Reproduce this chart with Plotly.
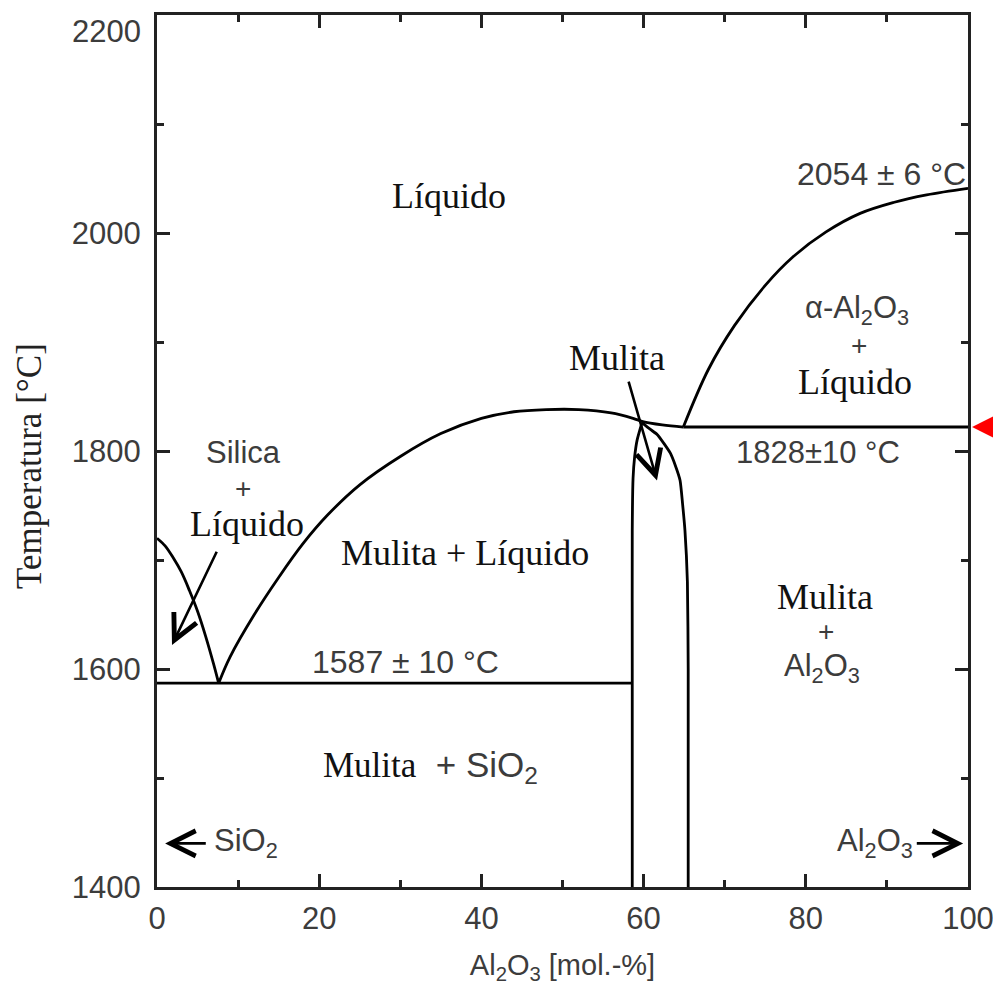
import plotly.graph_objects as go

# ---- data ----
sio2_liq_x = [0, 1, 2, 3, 4, 5, 6, 7, 7.6]
sio2_liq_y = [1720, 1713, 1702, 1689, 1672, 1653, 1630, 1604, 1587]

dome_x = [7.6, 9.0, 12.0, 15.0, 18.0, 21.0, 25.0, 30.0, 35.0, 40.0, 44.0, 48.0, 52.0, 56.0, 58.7, 59.9, 62.3, 64.9]
dome_y = [1587, 1611, 1650, 1684, 1715, 1741, 1769, 1795, 1816, 1830, 1836, 1838, 1838, 1835, 1830, 1827, 1824, 1822]

al_liq_x = [64.9, 68.0, 71.2, 75.0, 78.4, 82.5, 86.7, 90.8, 94.9, 100]
al_liq_y = [1822, 1875, 1915, 1952, 1978, 2001, 2018, 2028, 2035, 2041]

mul_left_x = [58.6, 58.6, 58.6, 58.7, 58.9, 59.2, 59.8]
mul_left_y = [1400, 1600, 1727, 1775, 1795, 1810, 1826]

mul_right_x = [65.5, 65.5, 65.4, 65.1, 64.8, 64.5, 63.9, 63.3, 62.5, 61.7, 60.8, 59.8]
mul_right_y = [1400, 1600, 1680, 1727, 1752, 1773, 1787, 1798, 1807, 1815, 1820, 1826]

eutectic_x = [0, 58.6]
eutectic_y = [1587, 1587]
peritectic_x = [64.9, 100]
peritectic_y = [1822, 1822]

x_ticks = [0, 20, 40, 60, 80, 100]
y_ticks = [1400, 1600, 1800, 2000, 2200]

SERIF = "Liberation Serif"
SANS = "Liberation Sans"
SANS_C = "#3c3c3c"
SERIF_C = "#111111"
LW = 2.8

fig = go.Figure()

def add_line(x, y, shape="linear", smoothing=1.0):
    fig.add_trace(go.Scatter(x=x, y=y, mode="lines",
                             line=dict(color="black", width=LW, shape=shape, smoothing=smoothing),
                             hoverinfo="skip", showlegend=False))

add_line(sio2_liq_x, sio2_liq_y, "spline", 1.0)
add_line(dome_x, dome_y, "spline", 1.0)
add_line(al_liq_x, al_liq_y, "spline", 1.0)
add_line(mul_left_x, mul_left_y, "spline", 0.5)
add_line(mul_right_x, mul_right_y, "spline", 0.5)
add_line(eutectic_x, eutectic_y)
add_line(peritectic_x, peritectic_y)

def serif_txt(x, y, t, size=36):
    fig.add_annotation(x=x, y=y, text=t, showarrow=False,
                       font=dict(family=SERIF, size=size, color=SERIF_C))

def sans_txt(x, y, t, size=31):
    fig.add_annotation(x=x, y=y, text=t, showarrow=False,
                       font=dict(family=SANS, size=size, color=SANS_C))

serif_txt(36.0, 2034, "Líquido")
sans_txt(10.7, 1799, "Silica")
sans_txt(10.6, 1766, "+", 28)
serif_txt(11.1, 1733, "Líquido")
serif_txt(38.0, 1706, "Mulita + Líquido")
sans_txt(30.6, 1606, "1587 ± 10 °C", 32)
fig.add_annotation(x=33.7, y=1510, showarrow=False,
                   text=f"<span style='font-family:{SERIF};color:{SERIF_C}'>Mulita</span>"
                        f"<span style='font-family:{SANS};color:{SANS_C}'>  + SiO<sub>2</sub></span>",
                   font=dict(family=SERIF, size=35, color=SERIF_C))
serif_txt(56.7, 1885, "Mulita")
sans_txt(89.3, 2054, "2054 ± 6 °C", 32)
sans_txt(86.3, 1929, "α-Al<sub>2</sub>O<sub>3</sub>")
sans_txt(86.6, 1897, "+", 28)
serif_txt(86.1, 1863, "Líquido")
sans_txt(81.5, 1799, "1828±10 °C")
serif_txt(82.4, 1666, "Mulita")
sans_txt(82.5, 1634, "+", 28)
sans_txt(82.0, 1601, "Al<sub>2</sub>O<sub>3</sub>")
sans_txt(11.0, 1440, "SiO<sub>2</sub>")
sans_txt(88.5, 1440, "Al<sub>2</sub>O<sub>3</sub>")

def arrow(x0, y0, x1, y1, color="black", head=5, size=1.9, width=2.6):
    fig.add_annotation(x=x1, y=y1, ax=x0, ay=y0, xref="x", yref="y", axref="x", ayref="y",
                       text="", showarrow=True, arrowhead=head, arrowsize=size,
                       arrowwidth=width, arrowcolor=color)

arrow(7.45, 1709, 1.85, 1622)
arrow(58.1, 1865, 61.65, 1773)
arrow(6.2, 1440, 1.0, 1440)
arrow(93.5, 1440, 99.4, 1440)

# red marker arrow just outside the right axis
fig.add_annotation(x=1.005, y=1822, ax=26, ay=0, xref="paper", yref="y",
                   text="", showarrow=True, arrowhead=2, arrowsize=1.3,
                   arrowwidth=3.5, arrowcolor="red")

# top y tick label, nudged down inside the page like the reference
fig.add_annotation(x=0, y=y_ticks[-1], xref="paper", yref="y", xanchor="right", yanchor="middle",
                   xshift=-14, yshift=-16, showarrow=False, text=str(y_ticks[-1]),
                   font=dict(family=SANS, size=31, color=SANS_C))

# y-axis title (as rotated annotation to match its position)
fig.add_annotation(x=-0.157, y=1786, xref="paper", yref="y", xanchor="center", yanchor="middle",
                   textangle=-90, showarrow=False,
                   text="Temperatura [°C]", font=dict(family=SERIF, size=35, color="#222"))

axis_common = dict(showline=True, linewidth=3, linecolor="#222", mirror="ticks",
                   ticks="inside", ticklen=13, tickwidth=3, tickcolor="#222",
                   showgrid=False, zeroline=False, automargin=False,
                   ticklabeloverflow="allow",
                   tickfont=dict(family=SANS, size=31, color=SANS_C))

fig.update_xaxes(range=[0, 100], tickvals=x_ticks, ticktext=[str(v) for v in x_ticks],
                 minor=dict(ticks="inside", ticklen=7, tickwidth=3, tickcolor="#222", dtick=10, tick0=0),
                 ticklabelstandoff=2,
                 title=dict(text="Al<sub>2</sub>O<sub>3</sub> [mol.-%]",
                            font=dict(family=SANS, size=29, color=SANS_C), standoff=20),
                 **axis_common)
fig.update_yaxes(range=[1400, 2200], tickvals=y_ticks,
                 ticktext=[str(v) for v in y_ticks[:-1]] + [""],
                 minor=dict(ticks="inside", ticklen=7, tickwidth=3, tickcolor="#222", dtick=100, tick0=1400),
                 ticklabelstandoff=7,
                 **axis_common)

fig.update_layout(width=993, height=985, margin=dict(l=157, r=25, t=15, b=98),
                  plot_bgcolor="white", paper_bgcolor="white", showlegend=False)

fig.write_html("out.html")
